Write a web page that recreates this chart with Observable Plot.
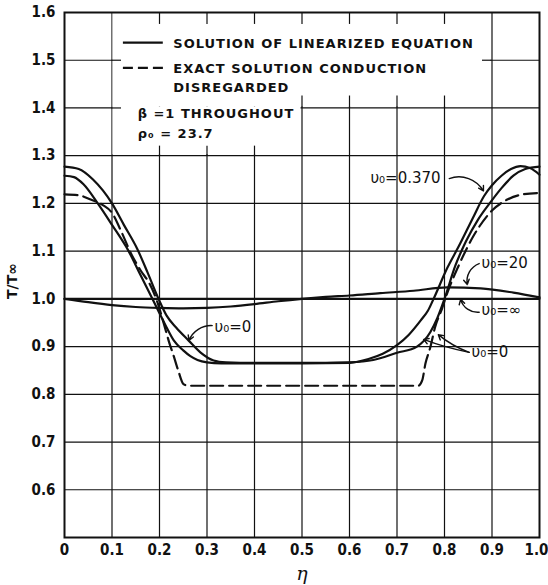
<!DOCTYPE html>
<html><head><meta charset="utf-8">
<script src="https://cdn.jsdelivr.net/npm/d3@7"></script>
<script src="https://cdn.jsdelivr.net/npm/@observablehq/plot@0.6"></script>
<style>
body{margin:0;background:#fff}
</style>
</head><body><div id="chart"></div>
<script>
// ---- ticks / grid ----
const etaTicks = [0,0.1,0.2,0.3,0.4,0.5,0.6,0.7,0.8,0.9,1.0];
const tTicks = [0.6,0.7,0.8,0.9,1.0,1.1,1.2,1.3,1.4,1.5,1.6];
const gridEta = [0.1,0.2,0.3,0.4,0.5,0.6,0.7,0.8,0.9];
const gridT = [0.6,0.7,0.8,0.9,1.0,1.1,1.2,1.3,1.4,1.5];
const stubTopEta = [0.2,0.3,0.4,0.5,0.6,0.7,0.8];
const stubLowEta = [0.2,0.3,0.4];
const stubMidEta = [0.5,0.6,0.7,0.8];

// ---- series: linearized solution, nu0 = 0.370 ----
const etaA = [0,0.02,0.04,0.07,0.1,0.135,0.16,0.185,0.2,0.215,0.23,0.25,0.265,0.28,0.3,0.33,0.4,0.5,0.6,0.64,0.67,0.7,0.725,0.75,0.765,0.777,0.806,0.83,0.86,0.883,0.9,0.92,0.94,0.96,0.98,1.0];
const tA   = [1.258,1.255,1.24,1.2,1.155,1.1,1.05,1.0,0.97,0.94,0.913,0.892,0.88,0.872,0.867,0.865,0.865,0.865,0.866,0.874,0.885,0.903,0.925,0.955,0.975,1.0,1.065,1.11,1.17,1.215,1.238,1.258,1.272,1.278,1.274,1.26];
// ---- linearized solution, nu0 = 0 ----
const etaB = [0,0.03,0.06,0.1,0.125,0.153,0.175,0.198,0.215,0.235,0.261,0.286,0.314,0.34,0.37,0.45,0.55,0.6,0.65,0.7,0.742,0.77,0.785,0.8,0.823,0.845,0.87,0.895,0.92,0.945,0.97,1.0];
const tB   = [1.277,1.272,1.25,1.2,1.155,1.105,1.055,1.0,0.965,0.94,0.913,0.888,0.871,0.867,0.866,0.866,0.866,0.867,0.872,0.887,0.9,0.93,0.96,1.0,1.07,1.12,1.165,1.2,1.232,1.258,1.272,1.277];
// ---- exact solution, conduction disregarded ----
const etaD = [0,0.03,0.055,0.08,0.1,0.12,0.14,0.16,0.18,0.195,0.21,0.22,0.23,0.24,0.25,0.26,0.5,0.745,0.753,0.76,0.77,0.78,0.795,0.805,0.83,0.86,0.9,0.93,0.96,1.0];
const tD   = [1.219,1.217,1.208,1.197,1.18,1.14,1.095,1.06,1.03,0.995,0.945,0.91,0.88,0.848,0.822,0.818,0.818,0.818,0.829,0.865,0.898,0.94,0.98,1.01,1.07,1.13,1.185,1.207,1.218,1.222];
// ---- nu0 = 20 ----
const etaC = [0,0.05,0.1,0.15,0.2,0.25,0.3,0.35,0.4,0.45,0.5,0.55,0.6,0.665,0.735,0.806,0.876,0.945,1.0];
const tC   = [1.0,0.993,0.987,0.983,0.981,0.98,0.981,0.984,0.989,0.995,1.0,1.004,1.007,1.012,1.017,1.024,1.022,1.013,1.003];
// ---- nu0 = infinity ----
const etaInf = [0,1.0];
const tInf = [1.0,1.0];

// ---- legend / annotations ----
const legendText = ["SOLUTION OF LINEARIZED EQUATION","EXACT SOLUTION CONDUCTION","DISREGARDED","β =1 THROUGHOUT","ρ₀ = 23.7"];
const legendTextEta = [0.229,0.229,0.229,0.154,0.154];
const legendTextT = [1.535,1.483,1.443,1.388,1.346];
const legendSolid = [{x1:0.124,x2:0.208,y:1.537}];
const legendDashed = [{x1:0.124,x2:0.216,y:1.484}];
const legendBox = [{x1:0.1,x2:0.9,y1:1.4,y2:1.6}];
const legendBoxLow = [{x1:0.1,x2:0.5,y1:1.3,y2:1.4}];

const annText = ["υ₀=0.370","υ₀=20","υ₀=∞","υ₀=0","υ₀=0"];
const annEta = [0.644,0.878,0.878,0.857,0.316];
const annT = [1.252,1.074,0.976,0.888,0.94];
const annArrows = [
  {x1:0.81,y1:1.252,x2:0.882,y2:1.226,bend:40},
  {x1:0.873,y1:1.074,x2:0.848,y2:1.03,bend:-40},
  {x1:0.873,y1:0.972,x2:0.834,y2:0.999,bend:40},
  {x1:0.852,y1:0.888,x2:0.756,y2:0.915,bend:5},
  {x1:0.852,y1:0.888,x2:0.787,y2:0.925,bend:10},
  {x1:0.311,y1:0.944,x2:0.262,y2:0.913,bend:-35}
];

const toRows = (xs, ys) => xs.map((x,i)=>({eta:x, t:ys[i]}));
const A = toRows(etaA,tA), B = toRows(etaB,tB), D = toRows(etaD,tD), C = toRows(etaC,tC), I = toRows(etaInf,tInf);
const legRows = legendText.map((s,i)=>({s, eta:legendTextEta[i], t:legendTextT[i]}));
const annRows = annText.map((s,i)=>({s, eta:annEta[i], t:annT[i]}));

const tickFont = "'Liberation Sans Narrow','DejaVu Sans Condensed',sans-serif";
const labFont = "'DejaVu Sans',sans-serif";

const arrowMarks = annArrows.map(a => Plot.arrow([a], {x1:"x1", y1:"y1", x2:"x2", y2:"y2", bend: a.bend, headLength: 6, stroke:"#111", strokeWidth: 1.4}));

const chart = Plot.plot({
  width: 548, height: 585,
  marginLeft: 64, marginRight: 9, marginTop: 12, marginBottom: 48,
  style: {fontFamily: tickFont, fontSize: "15px", color: "#111", background: "#fff"},
  x: {domain: [0,1], label: null},
  y: {domain: [0.5,1.6], label: null},
  marks: [
    Plot.ruleX(gridEta, {stroke: "#111", strokeWidth: 1.2}),
    Plot.ruleY(gridT, {stroke: "#111", strokeWidth: 1.2}),
    Plot.rect(legendBox, {x1:"x1",x2:"x2",y1:"y1",y2:"y2", fill:"#fff", insetLeft:1, insetRight:1, insetBottom:1, insetTop:1}),
    Plot.rect(legendBoxLow, {x1:"x1",x2:"x2",y1:"y1",y2:"y2", fill:"#fff", insetLeft:1, insetRight:1, insetBottom:1, insetTop:-1}),
    Plot.ruleX(stubTopEta, {y1: 1.6, y2: 1.575, stroke:"#111", strokeWidth:1.2}),
    Plot.ruleX(stubLowEta, {y1: 1.3, y2: 1.32, stroke:"#111", strokeWidth:1.2}),
    Plot.ruleX(stubMidEta, {y1: 1.4, y2: 1.425, stroke:"#111", strokeWidth:1.2}),
    Plot.ruleY([1.4,1.5], {x1: 0.1, x2: 0.12, stroke:"#111", strokeWidth:1.2}),
    Plot.ruleY([1.5], {x1: 0.88, x2: 0.9, stroke:"#111", strokeWidth:1.2}),
    Plot.line(I, {x:"eta", y:"t", stroke:"#111", strokeWidth:2.2}),
    Plot.line(C, {x:"eta", y:"t", stroke:"#111", strokeWidth:2.2, curve:"monotone-x"}),
    Plot.line(A, {x:"eta", y:"t", stroke:"#111", strokeWidth:2.2, curve:"monotone-x"}),
    Plot.line(B, {x:"eta", y:"t", stroke:"#111", strokeWidth:2.2, curve:"monotone-x"}),
    Plot.line(D, {x:"eta", y:"t", stroke:"#111", strokeWidth:2.2, curve:"monotone-x", strokeDasharray:"13,6"}),
    Plot.frame({stroke:"#111", strokeWidth: 2}),
    Plot.axisX({ticks: etaTicks, tickSize: 0, tickPadding: 7, fontWeight: "bold", tickFormat: d => d === 0 ? "0" : d.toFixed(1), label: null}),
    Plot.axisY({ticks: tTicks, tickSize: 0, tickPadding: 9, fontWeight: "bold", tickFormat: d => d.toFixed(1), label: null}),
    Plot.ruleY(legendSolid, {x1:"x1", x2:"x2", y:"y", stroke:"#111", strokeWidth:2.2}),
    Plot.ruleY(legendDashed, {x1:"x1", x2:"x2", y:"y", stroke:"#111", strokeWidth:2.2, strokeDasharray:"10,5"}),
    Plot.text(legRows, {x:"eta", y:"t", text:"s", textAnchor:"start", fontFamily: labFont, fontSize: 13, fontWeight: "bold", fill:"#111"}),
    Plot.text(annRows, {x:"eta", y:"t", text:"s", textAnchor:"start", fontFamily: labFont, fontSize: 15, fill:"#111"}),
    ...arrowMarks,
    Plot.text(["T/T∞"], {frameAnchor:"left", dx:-52, dy: 6, textAnchor:"middle", lineAnchor:"middle", rotate:-90, fontFamily: labFont, fontSize: 14, fontWeight:"bold", fill:"#111"}),
    Plot.text(["η"], {frameAnchor:"bottom", dy: 36, lineAnchor:"middle", fontFamily: "'DejaVu Serif',serif", fontStyle:"italic", fontSize: 19, fill:"#111"})
  ]
});
// spread legend lettering like the hand-lettered original
d3.select(chart).selectAll("text")
  .filter(function(){ return legendText.includes(this.textContent); })
  .style("letter-spacing", "1px");
// nudge the last x tick label inside the page edge
d3.select(chart).selectAll('g[aria-label="x-axis tick label"] text')
  .filter(function(){ return this.textContent === "1.0"; })
  .attr("dx", -3);
document.getElementById("chart").appendChild(chart);
</script>
</body></html>
